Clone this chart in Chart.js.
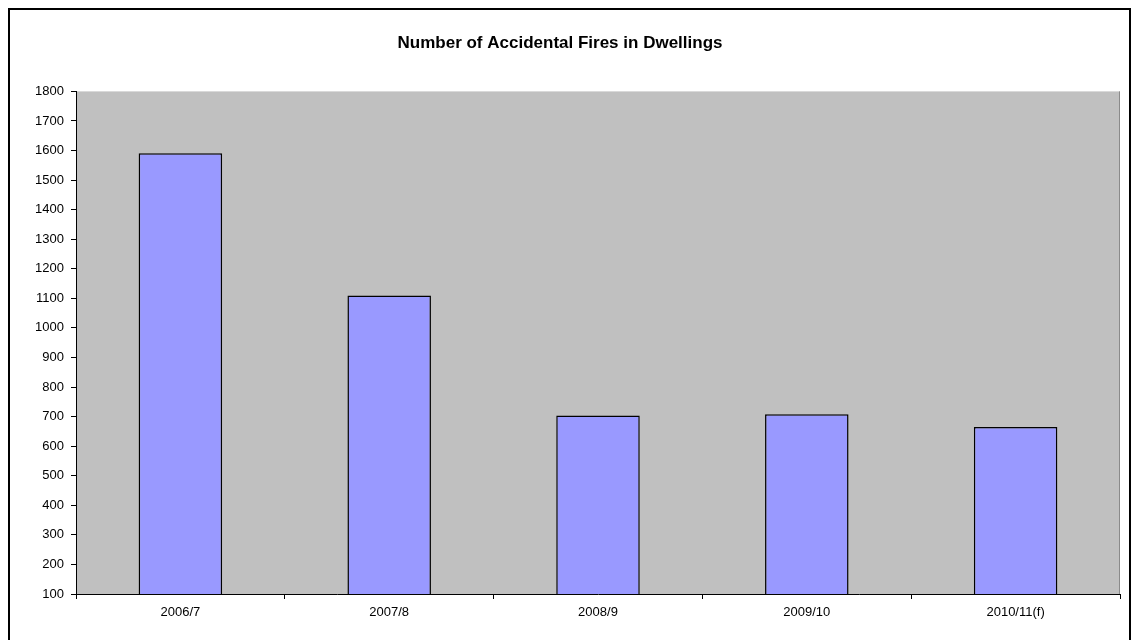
<!DOCTYPE html>
<html>
<head>
<meta charset="utf-8">
<script src="https://cdn.jsdelivr.net/npm/chart.js@4/dist/chart.umd.min.js"></script>
<style>
html,body{margin:0;padding:0;background:#fff;}
#wrap{position:relative;width:1138px;height:640px;}
</style>
</head>
<body>
<div id="wrap"><canvas id="c" width="1138" height="640"></canvas></div>
<script>
const categories = ["2006/7", "2007/8", "2008/9", "2009/10", "2010/11(f)"];
const fires = [1591, 1110, 704, 708, 665];
const titleText = "Number of Accidental Fires in Dwellings";
const yMin = 100, yMax = 1800, yStep = 100;

const frame = {
  id: 'frame',
  beforeDraw(chart) {
    const ctx = chart.ctx, a = chart.chartArea;
    ctx.save();
    ctx.fillStyle = '#ffffff';
    ctx.fillRect(0, 0, chart.width, chart.height);
    ctx.strokeStyle = '#000';
    ctx.lineWidth = 2;
    ctx.strokeRect(9, 9, 1121, 700);
    ctx.fillStyle = '#C0C0C0';
    ctx.fillRect(a.left, a.top, a.right - a.left, a.bottom - a.top);
    ctx.strokeStyle = '#8a8a8a';
    ctx.lineWidth = 1;
    ctx.beginPath();
    ctx.moveTo(a.right - 0.5, a.top); ctx.lineTo(a.right - 0.5, a.bottom);
    ctx.stroke();
    ctx.restore();
  }
};

new Chart(document.getElementById('c'), {
  type: 'bar',
  data: {
    labels: categories,
    datasets: [{
      data: fires,
      backgroundColor: '#9999FF',
      borderColor: '#000000',
      borderWidth: 1.5,
      categoryPercentage: 1,
      barPercentage: 0.4
    }]
  },
  options: {
    responsive: false,
    animation: false,
    devicePixelRatio: 1,
    layout: { padding: { left: 0, right: 18, top: 0, bottom: 0 } },
    plugins: {
      legend: { display: false },
      tooltip: { enabled: false },
      title: {
        display: true,
        text: titleText,
        color: '#000',
        font: { family: 'Liberation Sans, Arial, sans-serif', size: 17, weight: 'bold' },
        padding: { top: 33, bottom: 38 }
      }
    },
    scales: {
      x: {
        offset: true,
        grid: { display: true, drawOnChartArea: false, offset: true, color: '#000', tickLength: 5, tickColor: '#000' },
        border: { display: true, color: '#000', width: 1 },
        ticks: { color: '#000', padding: 6, maxRotation: 0, font: { family: 'Liberation Sans, Arial, sans-serif', size: 13 } },
        afterFit(s) { s.height = 46; }
      },
      y: {
        min: yMin, max: yMax,
        grid: { display: true, drawOnChartArea: false, color: '#000', tickLength: 5, tickColor: '#000' },
        border: { display: true, color: '#000', width: 1 },
        ticks: {
          stepSize: yStep, color: '#000', padding: 7,
          font: { family: 'Liberation Sans, Arial, sans-serif', size: 13 },
          callback: (v) => String(v)
        },
        afterFit(s) { s.width = 76; }
      }
    }
  },
  plugins: [frame]
});
</script>
</body>
</html>
